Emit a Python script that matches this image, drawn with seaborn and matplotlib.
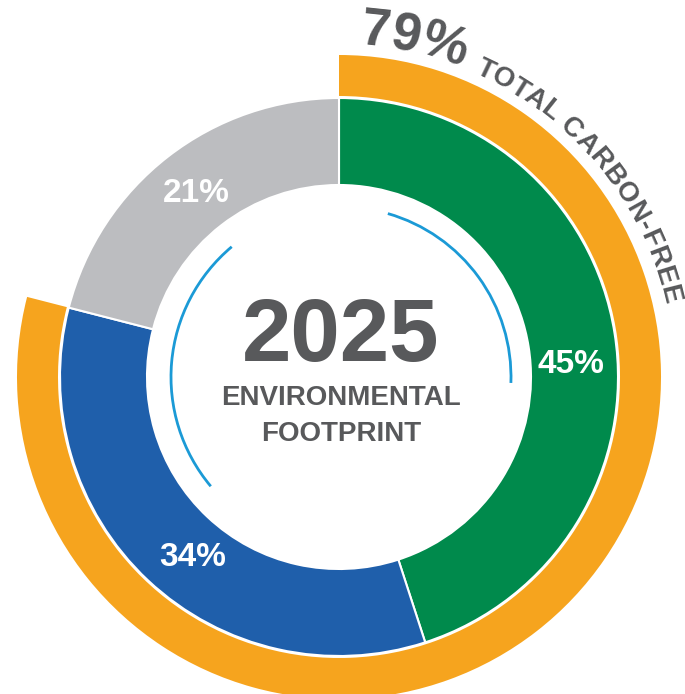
import numpy as np
import seaborn as sns
import matplotlib.pyplot as plt
from matplotlib.patches import Arc
from matplotlib.font_manager import FontProperties

# data
segments = ["Carbon-free A", "Carbon-free B", "Other"]
shares = [45, 34, 21]
pct_labels = ["45%", "34%", "21%"]
carbon_free_total = 79
ring_title = "TOTAL CARBON-FREE"
center_year = "2025"
center_lines = ["ENVIRONMENTAL", "FOOTPRINT"]

# style
green, blue, grey = "#008a4c", "#1f5fab", "#bcbdc0"
orange = "#f6a41e"
dark = "#58595b"
arc_blue = "#1b9ad6"
label_angles = [87, 219, 322]  # clockwise from top, where the % labels sit

sns.set_theme(style="white")
plt.rcParams["font.family"] = ["Liberation Sans", "DejaVu Sans"]

W, H = 685, 694
fig = plt.figure(figsize=(W / 100, H / 100), dpi=100)
ax = fig.add_axes([0, 0, 1, 1])

cx, cy = 339, H - 377
r_inner_out, r_inner_in = 279, 192
r_outer_out, r_outer_in = 322, 281

# inner ring
ax.pie(shares, center=(cx, cy), radius=r_inner_out, startangle=90, counterclock=False,
       colors=[green, blue, grey],
       wedgeprops=dict(width=r_inner_out - r_inner_in, edgecolor="white", linewidth=1.5))

# outer ring: only the carbon-free part is drawn
outer_vals = [carbon_free_total, 100 - carbon_free_total]
ax.pie(outer_vals, center=(cx, cy), radius=r_outer_out, startangle=90, counterclock=False,
       colors=[orange, "none"],
       wedgeprops=dict(width=r_outer_out - r_outer_in, edgecolor="none"))

# thin arcs inside
for t1, t2 in [(-2, 74), (130, 220)]:
    ax.add_patch(Arc((cx + 2, cy), 340, 340, theta1=t1, theta2=t2, color=arc_blue, lw=2))

# percent labels
r_lab = (r_inner_out + r_inner_in) / 2 - 3
for lab, a in zip(pct_labels, label_angles):
    th = np.radians(a)
    ax.text(cx + r_lab * np.sin(th), cy + r_lab * np.cos(th), lab, color="white",
            fontsize=24, fontweight="bold", ha="center", va="center")

# center text
ax.text(cx + 2, H - 338, center_year, color=dark, fontsize=64, fontweight="bold",
        ha="center", va="center")
ax.text(cx + 2, H - 398, center_lines[0], color=dark, fontsize=20, fontweight="bold",
        ha="center", va="center")
ax.text(cx + 2, H - 434, center_lines[1], color=dark, fontsize=20, fontweight="bold",
        ha="center", va="center")

ax.set_xlim(0, W)
ax.set_ylim(0, H)
ax.set_aspect("equal")
ax.axis("off")

renderer = fig.canvas.get_renderer()


def curved_text(s, theta_start, radius, size, tracking=0.0):
    fp = FontProperties(family="Liberation Sans", weight="bold", size=size)

    def w(t):
        return renderer.get_text_width_height_descent(t, fp, ismath=False)[0]

    for i, ch in enumerate(s):
        if ch == " ":
            continue
        right = w(s[:i + 1]) + tracking * i
        cw = w(ch)
        mid = right - cw / 2
        th = theta_start + np.degrees(mid / radius)
        r = np.radians(th)
        ax.text(cx + radius * np.sin(r), cy + radius * np.cos(r), ch, fontproperties=fp,
                color=dark, rotation=-th, rotation_mode="anchor", ha="center", va="baseline")


curved_text(f"{carbon_free_total}%", 3.5, 333, 38)
curved_text(ring_title, 24.0, 333, 20, tracking=0.6)

fig.savefig("out.png", dpi=100)
